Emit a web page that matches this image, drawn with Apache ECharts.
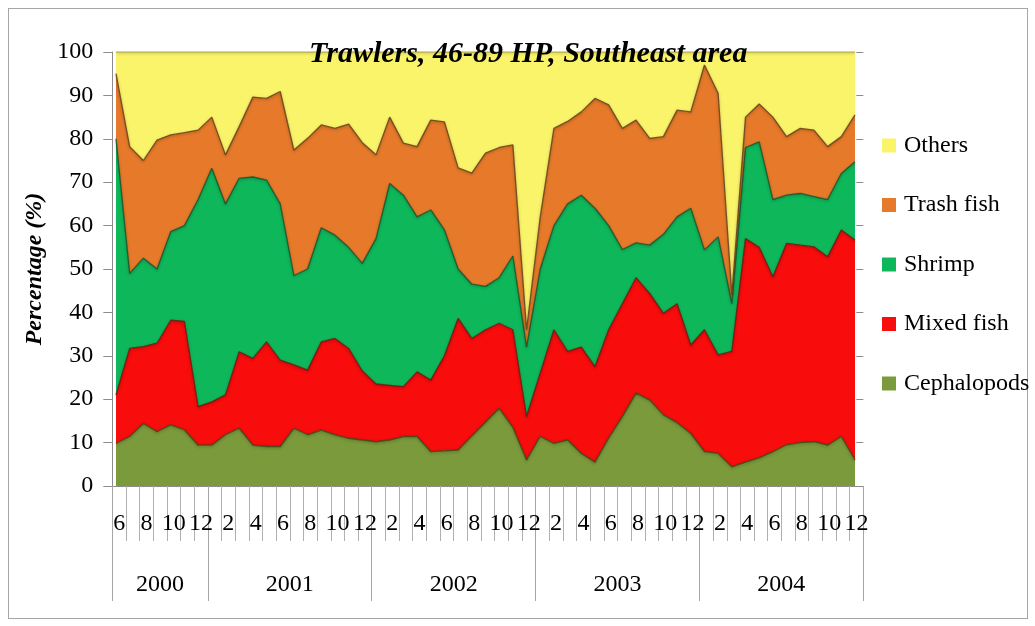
<!DOCTYPE html>
<html>
<head>
<meta charset="utf-8">
<script src="https://cdn.jsdelivr.net/npm/echarts@6/dist/echarts.min.js"></script>
<style>
  html, body { margin: 0; padding: 0; background: #fff; }
  #frame { position: absolute; left: 8px; top: 8px; width: 1018px; height: 609px; border: 1px solid #a6a6a6; }
  #chart { position: absolute; left: 0; top: 0; width: 1035px; height: 626px; }
</style>
</head>
<body>
<div id="frame"></div>
<div id="chart"></div>
<script>
// months Jun 2000 .. Dec 2004
const monthLabels = [
  '6','7','8','9','10','11','12',
  '1','2','3','4','5','6','7','8','9','10','11','12',
  '1','2','3','4','5','6','7','8','9','10','11','12',
  '1','2','3','4','5','6','7','8','9','10','11','12',
  '1','2','3','4','5','6','7','8','9','10','11','12'
]
const years = ['2000', '2001', '2002', '2003', '2004']
const yearLengths = [7, 12, 12, 12, 12]
const yTicks = [0, 10, 20, 30, 40, 50, 60, 70, 80, 90, 100]

// percentages
const cephalopods = [9.8, 11.4, 14.4, 12.5, 14.1, 12.9, 9.4,
  9.4, 11.8, 13.3, 9.4, 9.1, 9.1, 13.3, 11.8, 12.9, 11.8, 11.0, 10.6,
  10.2, 10.6, 11.4, 11.4, 7.9, 8.1, 8.3, 11.5, 14.7, 17.9, 13.5, 6.0,
  11.4, 9.8, 10.6, 7.5, 5.5, 11.0, 16.0, 21.4, 19.8, 16.4, 14.6, 12.1,
  7.9, 7.5, 4.4, 5.5, 6.5, 7.9, 9.5, 10.0, 10.2, 9.4, 11.4, 6.0]
const mixedFish = [11.2, 20.3, 17.7, 20.4, 24.1, 25.0, 8.9,
  10.0, 9.2, 17.6, 20.0, 24.1, 19.9, 14.6, 14.9, 20.3, 22.2, 20.7, 15.9,
  13.3, 12.6, 11.5, 14.9, 16.5, 21.9, 30.3, 22.5, 21.3, 19.6, 22.5, 10.0,
  14.6, 26.2, 20.4, 24.5, 22.0, 25.0, 26.0, 26.6, 24.6, 23.4, 27.4, 20.4,
  28.1, 22.7, 26.6, 51.5, 48.5, 40.3, 46.4, 45.5, 44.9, 43.4, 47.6, 50.7]
const shrimp = [59.0, 17.3, 20.4, 17.1, 20.4, 22.1, 47.7,
  53.8, 44.0, 40.0, 41.8, 37.3, 36.0, 20.6, 23.3, 26.3, 23.8, 23.3, 24.8,
  33.5, 46.5, 44.1, 35.7, 39.2, 29.0, 11.4, 12.5, 10.0, 10.5, 17.0, 16.0,
  24.0, 24.0, 34.0, 35.0, 36.5, 24.0, 12.5, 8.0, 11.1, 18.2, 20.0, 31.5,
  18.4, 27.2, 11.0, 21.0, 24.3, 17.8, 11.1, 11.9, 11.6, 13.2, 13.0, 18.0]
const trashFish = [15.0, 29.2, 22.5, 29.7, 22.3, 21.4, 16.0,
  11.8, 11.3, 11.9, 18.4, 18.8, 25.9, 28.9, 30.1, 23.7, 24.6, 28.4, 27.8,
  19.3, 15.3, 12.0, 16.2, 20.7, 24.9, 23.3, 25.6, 30.7, 30.0, 25.6, 4.0,
  12.0, 22.4, 19.0, 19.2, 25.3, 27.8, 27.9, 28.3, 24.6, 22.5, 24.6, 22.2,
  42.6, 33.1, 2.0, 7.0, 8.7, 19.0, 13.5, 15.0, 15.3, 12.2, 8.5, 10.8]
const others = [5.0, 21.8, 25.0, 20.3, 19.1, 18.6, 18.0,
  15.0, 23.7, 17.2, 10.4, 10.7, 9.1, 22.6, 19.9, 16.8, 17.6, 16.6, 20.9,
  23.7, 15.0, 21.0, 21.8, 15.7, 16.1, 26.7, 27.9, 23.3, 22.0, 21.4, 64.0,
  38.0, 17.6, 16.0, 13.8, 10.7, 12.2, 17.6, 15.7, 19.9, 19.5, 13.4, 13.8,
  3.0, 9.5, 56.0, 15.0, 12.0, 15.0, 19.5, 17.6, 18.0, 21.8, 19.5, 14.5]

const serif = '"Liberation Serif", "Times New Roman", serif'
const W = 1035
const axisLeft = 112.3, axisRight = 863.3
const bandW = (axisRight - axisLeft) / monthLabels.length
// the areas run from x=116 to x=855, a little narrower than the axis bands
const areaStep = (855 - 116) / (monthLabels.length - 1)
const areaLeft = 116 - areaStep / 2
const areaRight = areaLeft + areaStep * monthLabels.length

// year of each month, plus where each year starts and its middle month
const yearOfMonth = []
const yearStart = []
const yearMid = {}
years.forEach((y, k) => {
  yearStart.push(yearOfMonth.length)
  yearMid[yearOfMonth.length + Math.floor((yearLengths[k] - 1) / 2)] = yearLengths[k] % 2 === 0
  for (let m = 0; m < yearLengths[k]; m++) yearOfMonth.push(y)
})

const seriesDefs = [
  { name: 'Cephalopods', data: cephalopods, color: '#7b9a3b', edge: 'rgba(60,70,20,0.85)' },
  { name: 'Mixed fish', data: mixedFish, color: '#f80c0c', edge: 'rgba(110,20,10,0.85)' },
  { name: 'Shrimp', data: shrimp, color: '#0fb75b', edge: 'rgba(20,80,40,0.85)' },
  { name: 'Trash fish', data: trashFish, color: '#e67a2a', edge: 'rgba(100,60,20,0.85)' },
  { name: 'Others', data: others, color: '#faf46b', edge: 'rgba(150,140,60,0.6)' }
]

const chart = echarts.init(document.getElementById('chart'))

chart.setOption({
  animation: false,
  title: {
    text: 'Trawlers, 46-89 HP, Southeast area',
    left: 304,
    top: 34,
    textStyle: { fontFamily: serif, fontSize: 30, fontWeight: 'bold', fontStyle: 'italic', color: '#000' }
  },
  legend: {
    data: ['Others', 'Trash fish', 'Shrimp', 'Mixed fish', 'Cephalopods'],
    orient: 'vertical',
    left: 877,
    top: 128,
    icon: 'rect',
    itemWidth: 14,
    itemHeight: 14,
    itemGap: 34.5,
    itemStyle: { borderWidth: 0 },
    textStyle: { fontFamily: serif, fontSize: 24, lineHeight: 25, color: '#000', padding: [0, 0, 0, 3] }
  },
  grid: [
    { left: areaLeft, right: W - areaRight, top: 52, bottom: 140 },
    { left: axisLeft, right: W - axisRight, top: 52, bottom: 140 }
  ],
  xAxis: [
    { type: 'category', gridIndex: 0, data: monthLabels, boundaryGap: true, show: false },
    {
      type: 'category',
      gridIndex: 1,
      data: monthLabels,
      position: 'bottom',
      boundaryGap: true,
      axisLine: { show: true, lineStyle: { color: '#8c8c8c', width: 1 } },
      axisTick: { show: true, interval: 0, length: 55, lineStyle: { color: '#b0b0b0' } },
      axisLabel: { interval: 1, margin: 26, fontFamily: serif, fontSize: 24, color: '#000' },
      splitLine: { show: false }
    },
    {
      type: 'category',
      gridIndex: 1,
      data: yearOfMonth,
      position: 'bottom',
      boundaryGap: true,
      axisLine: { show: false },
      axisTick: { show: true, interval: (i) => yearStart.includes(i), length: 115, lineStyle: { color: '#a6a6a6' } },
      axisLabel: {
        interval: (i) => i in yearMid,
        margin: 87,
        fontFamily: serif,
        fontSize: 24,
        color: '#000',
        formatter: (v, i) => (yearMid[i] ? '{s|' + v + '}' : v),
        rich: { s: { fontFamily: serif, fontSize: 24, color: '#000', padding: [0, 0, 0, bandW] } }
      },
      splitLine: { show: false }
    }
  ],
  yAxis: [
    { type: 'value', gridIndex: 0, min: 0, max: 100, show: false, splitLine: { show: false } },
    {
      type: 'value',
      gridIndex: 1,
      min: yTicks[0],
      max: yTicks[yTicks.length - 1],
      interval: yTicks[1] - yTicks[0],
      position: 'left',
      name: 'Percentage (%)',
      nameLocation: 'middle',
      nameGap: 54,
      nameTextStyle: { fontFamily: serif, fontSize: 24, fontWeight: 'bold', fontStyle: 'italic', color: '#000' },
      axisLine: { show: true, lineStyle: { color: '#8c8c8c' } },
      axisTick: { show: true, length: 9, lineStyle: { color: '#8c8c8c' } },
      axisLabel: { margin: 19, fontFamily: serif, fontSize: 24, color: '#000' },
      splitLine: { show: false }
    },
    {
      type: 'value',
      gridIndex: 1,
      min: yTicks[0],
      max: yTicks[yTicks.length - 1],
      interval: yTicks[1] - yTicks[0],
      position: 'right',
      axisLine: { show: false },
      axisTick: { show: true, inside: true, length: 7, lineStyle: { color: '#8c8c8c' } },
      axisLabel: { show: false },
      splitLine: { show: false }
    }
  ],
  series: seriesDefs.map((s) => ({
    name: s.name,
    type: 'line',
    stack: 'total',
    xAxisIndex: 0,
    yAxisIndex: 0,
    symbol: 'none',
    data: s.data,
    itemStyle: { color: s.color },
    // dark soft edge, a rough stand-in for the bevelled look
    lineStyle: { color: s.edge, width: 1.3, shadowColor: 'rgba(0,0,0,0.35)', shadowBlur: 3, shadowOffsetY: 1 },
    areaStyle: { color: s.color, opacity: 1 }
  }))
})
</script>
</body>
</html>
